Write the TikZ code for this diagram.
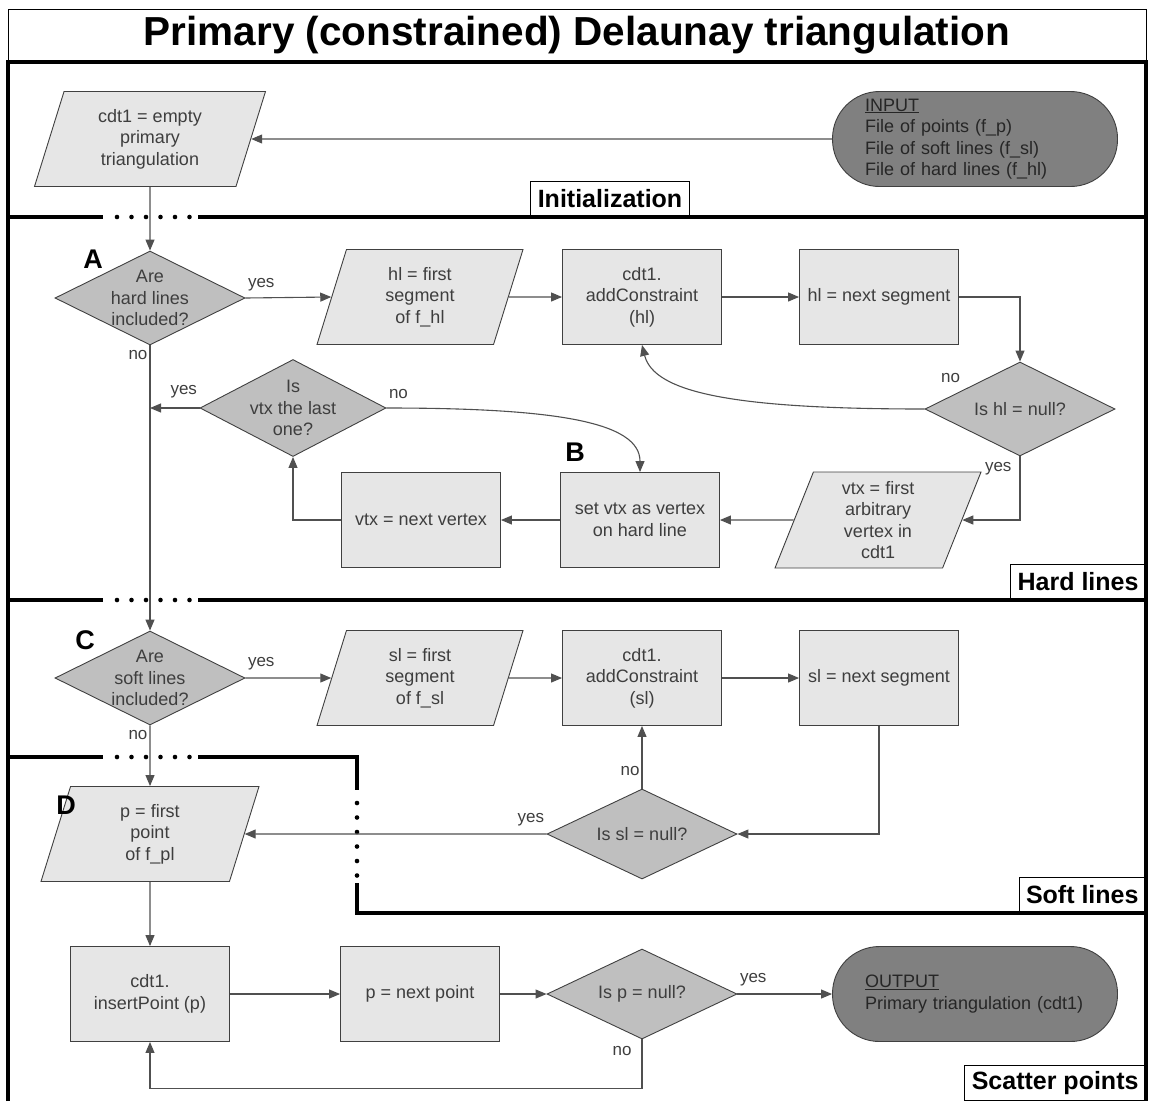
\documentclass[tikz,border=0pt]{standalone}
\usepackage{fontspec}
\setmainfont{Liberation Sans}
\usepackage{tikz}
\usetikzlibrary{arrows.meta, shapes.geometric}
\usepackage{xcolor}
\definecolor{boxFill}{RGB}{230,230,230}
\definecolor{decisionFill}{RGB}{191,191,191}
\definecolor{terminalFill}{RGB}{128,128,128}
\definecolor{edgeGray}{RGB}{64,64,64}
\definecolor{textGray}{RGB}{62,62,62}
\definecolor{flowGray}{RGB}{80,80,80}

\begin{document}
\begin{tikzpicture}[
    x=1pt, y=-1pt,
    every node/.style={font=\fontsize{18}{21.5}\selectfont, text=textGray},
    procbox/.style={
        rectangle, draw=edgeGray, fill=boxFill, line width=0.9pt,
        minimum width=159pt, minimum height=95pt, align=center, inner sep=3pt
    },
    iobox/.style={
        trapezium, trapezium left angle=63.7, trapezium right angle=116.3,
        trapezium stretches body, draw=edgeGray, fill=boxFill, line width=0.9pt,
        minimum height=95pt, align=center, inner sep=0pt
    },
    decision/.style={
        diamond, draw=edgeGray, fill=decisionFill, line width=0.9pt,
        minimum width=190pt, minimum height=94pt, inner sep=0pt
    },
    dectext/.style={align=center, inner sep=0pt},
    terminal/.style={
        rectangle, rounded corners=47pt, draw=edgeGray, fill=terminalFill, line width=0.9pt,
        minimum width=285pt, minimum height=95pt, text width=220pt, align=left,
        inner sep=0pt, text=black!85
    },
    lanelabel/.style={
        rectangle, draw=black, fill=white, line width=1pt, text=black,
        font=\fontsize{25}{30}\selectfont\bfseries, minimum height=35pt, inner xsep=7pt
    },
    letter/.style={font=\fontsize{27}{30}\selectfont\bfseries, text=black},
    branch/.style={font=\fontsize{17}{20}\selectfont, text=textGray, inner sep=2pt},
    flow/.style={-{Stealth[length=11pt, width=9pt, inset=0pt]}, line width=1.1pt, draw=flowGray},
    laneline/.style={line width=3.2pt, draw=black},
    lanedots/.style={line width=4.6pt, draw=black, line cap=round, dash pattern=on 0pt off 14.5pt}
]
\useasboundingbox (0,0) rectangle (1150,1101);

% --- Title band and lane labels ------------------------------------------
\draw[line width=1pt] (8,62) -- (8,9) -- (1146,9) -- (1146,62);
\node[font=\fontsize{40.5}{44}\selectfont\bfseries, text=black] (title) at (577,35)
    {Primary (constrained) Delaunay triangulation};

\node[lanelabel, anchor=south] (initLane) at (610,217) {Initialization};
\node[lanelabel, anchor=south east] (hardLane) at (1146,600) {Hard lines};
\node[lanelabel, anchor=south east] (softLane) at (1146,913) {Soft lines};
\node[lanelabel, anchor=south east] (scatterLane) at (1146,1101) {Scatter points};

% --- Lane borders (gaps shown dotted) -------------------------------------
\draw[laneline] (8,1101) -- (8,62) -- (1146,62) -- (1146,1101);
\draw[laneline] (8,217) -- (103,217);
\draw[lanedots] (117,217) -- (191,217);
\draw[laneline] (198,217) -- (1146,217);
\draw[laneline] (8,600) -- (103,600);
\draw[lanedots] (117,600) -- (191,600);
\draw[laneline] (198,600) -- (1146,600);
\draw[laneline] (8,757) -- (103,757);
\draw[lanedots] (117,757) -- (191,757);
\draw[laneline] (198,757) -- (357,757) -- (357,790);
\draw[lanedots] (357,803) -- (357,877);
\draw[laneline] (357,883) -- (357,913) -- (1146,913);

% --- Initialization -------------------------------------------------------
\node[iobox, minimum width=231pt] (init) at (150,139) {cdt1 = empty\\primary\\triangulation};
\node[terminal] (input) at (975,139)
    {\underline{INPUT}\\File of points (f\_p)\\File of soft lines (f\_sl)\\File of hard lines (f\_hl)};

% --- Hard lines -----------------------------------------------------------
\node[decision, label={[dectext]center:{Are\\hard lines\\included?}}] (hardQ) at (150,298) {};
\node[iobox, minimum width=206pt] (hlFirst) at (420,297) {hl = first\\segment\\of f\_hl};
\node[procbox] (addHard) at (642,297) {cdt1.\\addConstraint\\(hl)};
\node[procbox] (hlNext) at (879,297) {hl = next segment};
\node[decision, label={[dectext]center:{Is hl = null?}}] (hlNull) at (1020,409) {};
\node[iobox, minimum width=206pt, minimum height=96pt] (vtxFirst) at (878,520)
    {vtx = first\\arbitrary\\vertex in\\cdt1};
\node[procbox] (setVtx) at (640,520) {set vtx as vertex\\on hard line};
\node[procbox] (vtxNext) at (421,520) {vtx = next vertex};
\node[decision, minimum width=186pt, minimum height=97pt,
      label={[dectext]center:{Is\\vtx the last\\one?}}] (vtxLast) at (293,408) {};

% --- Soft lines -----------------------------------------------------------
\node[decision, label={[dectext]center:{Are\\soft lines\\included?}}] (softQ) at (150,678) {};
\node[iobox, minimum width=206pt] (slFirst) at (420,678) {sl = first\\segment\\of f\_sl};
\node[procbox] (addSoft) at (642,678) {cdt1.\\addConstraint\\(sl)};
\node[procbox] (slNext) at (879,678) {sl = next segment};
\node[decision, minimum height=90pt, label={[dectext]center:{Is sl = null?}}] (slNull) at (642,834) {};

% --- Scatter points -------------------------------------------------------
\node[iobox, minimum width=218pt] (pFirst) at (150,834) {p = first\\point\\of f\_pl};
\node[procbox] (insertP) at (150,994) {cdt1.\\insertPoint (p)};
\node[procbox] (pNext) at (420,994) {p = next point};
\node[decision, minimum height=90pt, label={[dectext]center:{Is p = null?}}] (pNull) at (642,994) {};
\node[terminal] (output) at (975,994) {\underline{OUTPUT}\\Primary triangulation (cdt1)};

% --- Step letters ---------------------------------------------------------
\node[letter] (markA) at (93,259) {A};
\node[letter] (markB) at (575,452) {B};
\node[letter] (markC) at (85,640) {C};
\node[letter] (markD) at (66,805) {D};

% --- Connectors -----------------------------------------------------------
\draw[flow] (input.west) -- (init.east);
\draw[flow] (init.south) -- (hardQ.north);
\draw[flow] (hardQ.east) -- node[branch, at start, anchor=south west, yshift=4pt]{yes} (hlFirst.west);
\draw[flow] (hlFirst.east) -- (addHard.west);
\draw[flow] (addHard.east) -- (hlNext.west);
\draw[flow] (hlNext.east) -| (hlNull.north);
\draw[flow] (hlNull.west) .. controls +(-190,0) and +(12,48) ..
    node[branch, at start, anchor=south east, xshift=38pt, yshift=24pt]{no} (addHard.south);
\draw[flow] (hlNull.south) |- node[branch, at start, anchor=north east, xshift=-6pt, yshift=-3pt]{yes} (vtxFirst.east);
\draw[flow] (vtxFirst.west) -- (setVtx.east);
\draw[flow] (setVtx.west) -- (vtxNext.east);
\draw[flow] (vtxNext.west) -| (vtxLast.south);
\draw[flow] (vtxLast.west) -- node[branch, at start, anchor=south east, yshift=7pt]{yes} (vtxLast.west -| hardQ.south);
\draw[flow] (vtxLast.east) .. controls +(170,0) and +(0,-50) ..
    node[branch, at start, anchor=south west, yshift=7pt]{no} (setVtx.north);
\draw[flow] (hardQ.south) -- node[branch, at start, anchor=north east, yshift=-2pt]{no} (softQ.north);

\draw[flow] (softQ.east) -- node[branch, at start, anchor=south west, yshift=5pt]{yes} (slFirst.west);
\draw[flow] (slFirst.east) -- (addSoft.west);
\draw[flow] (addSoft.east) -- (slNext.west);
\draw[flow] (slNext.south) |- (slNull.east);
\draw[flow] (slNull.north) -- node[branch, at start, anchor=south east, yshift=10pt]{no} (addSoft.south);
\draw[flow] (slNull.west) -- node[branch, at start, anchor=south east, yshift=5pt]{yes} (pFirst.east);
\draw[flow] (softQ.south) -- node[branch, at start, anchor=north east, yshift=-2pt]{no} (pFirst.north);

\draw[flow] (pFirst.south) -- (insertP.north);
\draw[flow] (insertP.east) -- (pNext.west);
\draw[flow] (pNext.east) -- (pNull.west);
\draw[flow] (pNull.east) -- node[branch, at start, anchor=south west, yshift=5pt]{yes} (output.west);
\draw[flow] (pNull.south) -- node[branch, at start, anchor=north east, xshift=-8pt, yshift=-4pt]{no} ++(0,49) -| (insertP.south);

\end{tikzpicture}
\end{document}
